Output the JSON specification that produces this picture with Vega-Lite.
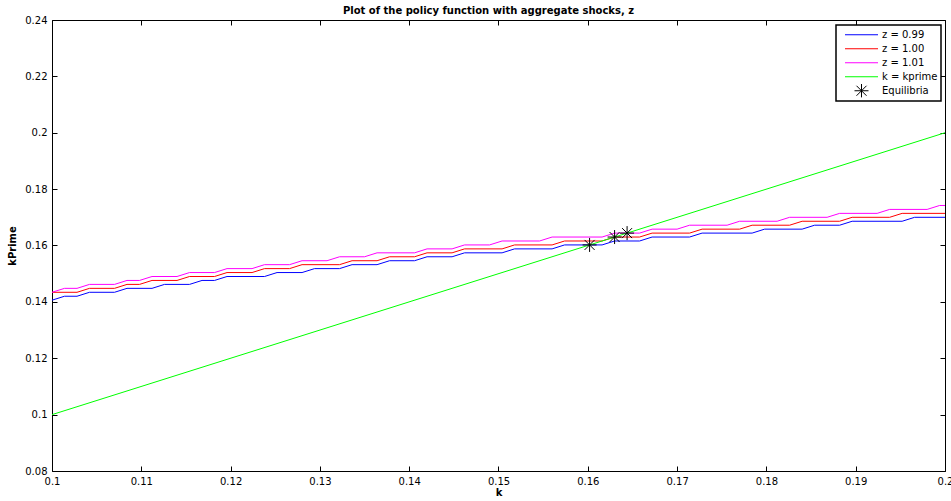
{
  "$schema": "https://vega.github.io/schema/vega-lite/v6.json",
  "width": 893,
  "height": 451,
  "autosize": {"type": "none"},
  "padding": {"left": 52, "top": 20, "right": 6, "bottom": 30},
  "background": "white",
  "title": {
    "text": "Plot of the policy function with aggregate shocks, z",
    "fontSize": 10,
    "fontWeight": "bold",
    "font": "DejaVu Sans",
    "color": "black",
    "offset": -1,
    "dx": -10,
    "anchor": "middle"
  },
  "config": {
    "font": "DejaVu Sans",
    "view": {"stroke": null},
    "axis": {
      "grid": false,
      "domainColor": "black",
      "domainWidth": 1,
      "tickColor": "black",
      "tickWidth": 1,
      "tickSize": -5,
      "labelPadding": 10,
      "labelColor": "black",
      "labelFontSize": 10,
      "labelFont": "DejaVu Sans",
      "titleColor": "black",
      "titleFontSize": 10,
      "titleFontWeight": "bold",
      "titleFont": "DejaVu Sans"
    },
    "legend": {
      "title": null,
      "orient": "none",
      "legendX": 784,
      "legendY": 5,
      "strokeColor": "black",
      "strokeWidth": 1.5,
      "fillColor": "white",
      "padding": 3,
      "labelFontSize": 10,
      "labelColor": "black",
      "labelFont": "DejaVu Sans",
      "labelAlign": "left",
      "symbolSize": 100,
      "symbolStrokeWidth": 1,
      "symbolOffset": 17,
      "labelOffset": 15,
      "clipHeight": 13.5,
      "rowPadding": 0
    }
  },
  "resolve": {
    "axis": {"x": "independent", "y": "independent"},
    "legend": {"color": "independent"}
  },
  "layer": [
    {
      "data": {"values": [
        {"series": "z = 0.99", "k": 0.1, "kp": 0.1406},
        {"series": "z = 0.99", "k": 0.1014, "kp": 0.142},
        {"series": "z = 0.99", "k": 0.1028, "kp": 0.142},
        {"series": "z = 0.99", "k": 0.1042, "kp": 0.1434},
        {"series": "z = 0.99", "k": 0.107, "kp": 0.1434},
        {"series": "z = 0.99", "k": 0.1084, "kp": 0.1448},
        {"series": "z = 0.99", "k": 0.1112, "kp": 0.1448},
        {"series": "z = 0.99", "k": 0.1126, "kp": 0.1462},
        {"series": "z = 0.99", "k": 0.1154, "kp": 0.1462},
        {"series": "z = 0.99", "k": 0.1168, "kp": 0.1476},
        {"series": "z = 0.99", "k": 0.1182, "kp": 0.1476},
        {"series": "z = 0.99", "k": 0.1196, "kp": 0.149},
        {"series": "z = 0.99", "k": 0.1238, "kp": 0.149},
        {"series": "z = 0.99", "k": 0.1252, "kp": 0.1504},
        {"series": "z = 0.99", "k": 0.128, "kp": 0.1504},
        {"series": "z = 0.99", "k": 0.1294, "kp": 0.1518},
        {"series": "z = 0.99", "k": 0.1322, "kp": 0.1518},
        {"series": "z = 0.99", "k": 0.1336, "kp": 0.1532},
        {"series": "z = 0.99", "k": 0.1364, "kp": 0.1532},
        {"series": "z = 0.99", "k": 0.1378, "kp": 0.1546},
        {"series": "z = 0.99", "k": 0.1406, "kp": 0.1546},
        {"series": "z = 0.99", "k": 0.142, "kp": 0.156},
        {"series": "z = 0.99", "k": 0.1448, "kp": 0.156},
        {"series": "z = 0.99", "k": 0.1462, "kp": 0.1574},
        {"series": "z = 0.99", "k": 0.1504, "kp": 0.1574},
        {"series": "z = 0.99", "k": 0.1518, "kp": 0.1588},
        {"series": "z = 0.99", "k": 0.156, "kp": 0.1588},
        {"series": "z = 0.99", "k": 0.1574, "kp": 0.1602},
        {"series": "z = 0.99", "k": 0.1616, "kp": 0.1602},
        {"series": "z = 0.99", "k": 0.163, "kp": 0.1616},
        {"series": "z = 0.99", "k": 0.1658, "kp": 0.1616},
        {"series": "z = 0.99", "k": 0.1672, "kp": 0.163},
        {"series": "z = 0.99", "k": 0.1714, "kp": 0.163},
        {"series": "z = 0.99", "k": 0.1728, "kp": 0.1644},
        {"series": "z = 0.99", "k": 0.1784, "kp": 0.1644},
        {"series": "z = 0.99", "k": 0.1798, "kp": 0.1658},
        {"series": "z = 0.99", "k": 0.184, "kp": 0.1658},
        {"series": "z = 0.99", "k": 0.1854, "kp": 0.1672},
        {"series": "z = 0.99", "k": 0.1882, "kp": 0.1672},
        {"series": "z = 0.99", "k": 0.1896, "kp": 0.1686},
        {"series": "z = 0.99", "k": 0.1952, "kp": 0.1686},
        {"series": "z = 0.99", "k": 0.1966, "kp": 0.17},
        {"series": "z = 0.99", "k": 0.2, "kp": 0.17},

        {"series": "z = 1.00", "k": 0.1, "kp": 0.1434},
        {"series": "z = 1.00", "k": 0.1028, "kp": 0.1434},
        {"series": "z = 1.00", "k": 0.1042, "kp": 0.1448},
        {"series": "z = 1.00", "k": 0.107, "kp": 0.1448},
        {"series": "z = 1.00", "k": 0.1084, "kp": 0.1462},
        {"series": "z = 1.00", "k": 0.1098, "kp": 0.1462},
        {"series": "z = 1.00", "k": 0.1112, "kp": 0.1476},
        {"series": "z = 1.00", "k": 0.114, "kp": 0.1476},
        {"series": "z = 1.00", "k": 0.1154, "kp": 0.149},
        {"series": "z = 1.00", "k": 0.1182, "kp": 0.149},
        {"series": "z = 1.00", "k": 0.1196, "kp": 0.1504},
        {"series": "z = 1.00", "k": 0.1224, "kp": 0.1504},
        {"series": "z = 1.00", "k": 0.1238, "kp": 0.1518},
        {"series": "z = 1.00", "k": 0.1266, "kp": 0.1518},
        {"series": "z = 1.00", "k": 0.128, "kp": 0.1532},
        {"series": "z = 1.00", "k": 0.1322, "kp": 0.1532},
        {"series": "z = 1.00", "k": 0.1336, "kp": 0.1546},
        {"series": "z = 1.00", "k": 0.1364, "kp": 0.1546},
        {"series": "z = 1.00", "k": 0.1378, "kp": 0.156},
        {"series": "z = 1.00", "k": 0.1406, "kp": 0.156},
        {"series": "z = 1.00", "k": 0.142, "kp": 0.1574},
        {"series": "z = 1.00", "k": 0.1448, "kp": 0.1574},
        {"series": "z = 1.00", "k": 0.1462, "kp": 0.1588},
        {"series": "z = 1.00", "k": 0.1504, "kp": 0.1588},
        {"series": "z = 1.00", "k": 0.1518, "kp": 0.1602},
        {"series": "z = 1.00", "k": 0.156, "kp": 0.1602},
        {"series": "z = 1.00", "k": 0.1574, "kp": 0.1616},
        {"series": "z = 1.00", "k": 0.1616, "kp": 0.1616},
        {"series": "z = 1.00", "k": 0.163, "kp": 0.163},
        {"series": "z = 1.00", "k": 0.1658, "kp": 0.163},
        {"series": "z = 1.00", "k": 0.1672, "kp": 0.1644},
        {"series": "z = 1.00", "k": 0.1714, "kp": 0.1644},
        {"series": "z = 1.00", "k": 0.1728, "kp": 0.1658},
        {"series": "z = 1.00", "k": 0.177, "kp": 0.1658},
        {"series": "z = 1.00", "k": 0.1784, "kp": 0.1672},
        {"series": "z = 1.00", "k": 0.1826, "kp": 0.1672},
        {"series": "z = 1.00", "k": 0.184, "kp": 0.1686},
        {"series": "z = 1.00", "k": 0.1882, "kp": 0.1686},
        {"series": "z = 1.00", "k": 0.1896, "kp": 0.17},
        {"series": "z = 1.00", "k": 0.1938, "kp": 0.17},
        {"series": "z = 1.00", "k": 0.1952, "kp": 0.1714},
        {"series": "z = 1.00", "k": 0.2, "kp": 0.1714},

        {"series": "z = 1.01", "k": 0.1, "kp": 0.1434},
        {"series": "z = 1.01", "k": 0.1014, "kp": 0.1448},
        {"series": "z = 1.01", "k": 0.1028, "kp": 0.1448},
        {"series": "z = 1.01", "k": 0.1042, "kp": 0.1462},
        {"series": "z = 1.01", "k": 0.107, "kp": 0.1462},
        {"series": "z = 1.01", "k": 0.1084, "kp": 0.1476},
        {"series": "z = 1.01", "k": 0.1098, "kp": 0.1476},
        {"series": "z = 1.01", "k": 0.1112, "kp": 0.149},
        {"series": "z = 1.01", "k": 0.114, "kp": 0.149},
        {"series": "z = 1.01", "k": 0.1154, "kp": 0.1504},
        {"series": "z = 1.01", "k": 0.1182, "kp": 0.1504},
        {"series": "z = 1.01", "k": 0.1196, "kp": 0.1518},
        {"series": "z = 1.01", "k": 0.1224, "kp": 0.1518},
        {"series": "z = 1.01", "k": 0.1238, "kp": 0.1532},
        {"series": "z = 1.01", "k": 0.1266, "kp": 0.1532},
        {"series": "z = 1.01", "k": 0.128, "kp": 0.1546},
        {"series": "z = 1.01", "k": 0.1308, "kp": 0.1546},
        {"series": "z = 1.01", "k": 0.1322, "kp": 0.156},
        {"series": "z = 1.01", "k": 0.135, "kp": 0.156},
        {"series": "z = 1.01", "k": 0.1364, "kp": 0.1574},
        {"series": "z = 1.01", "k": 0.1406, "kp": 0.1574},
        {"series": "z = 1.01", "k": 0.142, "kp": 0.1588},
        {"series": "z = 1.01", "k": 0.1448, "kp": 0.1588},
        {"series": "z = 1.01", "k": 0.1462, "kp": 0.1602},
        {"series": "z = 1.01", "k": 0.149, "kp": 0.1602},
        {"series": "z = 1.01", "k": 0.1504, "kp": 0.1616},
        {"series": "z = 1.01", "k": 0.1546, "kp": 0.1616},
        {"series": "z = 1.01", "k": 0.156, "kp": 0.163},
        {"series": "z = 1.01", "k": 0.1616, "kp": 0.163},
        {"series": "z = 1.01", "k": 0.163, "kp": 0.1644},
        {"series": "z = 1.01", "k": 0.1658, "kp": 0.1644},
        {"series": "z = 1.01", "k": 0.1672, "kp": 0.1658},
        {"series": "z = 1.01", "k": 0.17, "kp": 0.1658},
        {"series": "z = 1.01", "k": 0.1714, "kp": 0.1672},
        {"series": "z = 1.01", "k": 0.1756, "kp": 0.1672},
        {"series": "z = 1.01", "k": 0.177, "kp": 0.1686},
        {"series": "z = 1.01", "k": 0.1812, "kp": 0.1686},
        {"series": "z = 1.01", "k": 0.1826, "kp": 0.17},
        {"series": "z = 1.01", "k": 0.1868, "kp": 0.17},
        {"series": "z = 1.01", "k": 0.1882, "kp": 0.1714},
        {"series": "z = 1.01", "k": 0.1924, "kp": 0.1714},
        {"series": "z = 1.01", "k": 0.1938, "kp": 0.1728},
        {"series": "z = 1.01", "k": 0.198, "kp": 0.1728},
        {"series": "z = 1.01", "k": 0.1994, "kp": 0.1742},
        {"series": "z = 1.01", "k": 0.2, "kp": 0.1742}
      ]},
      "mark": {"type": "line", "strokeWidth": 1, "clip": true},
      "encoding": {
        "x": {
          "field": "k", "type": "quantitative",
          "scale": {"domain": [0.1, 0.2], "nice": false, "zero": false},
          "axis": {
            "orient": "bottom", "title": "k", "titlePadding": 1,
            "values": [0.1, 0.11, 0.12, 0.13, 0.14, 0.15, 0.16, 0.17, 0.18, 0.19, 0.2],
            "format": ".2~f", "labelFlush": false
          }
        },
        "y": {
          "field": "kp", "type": "quantitative",
          "scale": {"domain": [0.08, 0.24], "nice": false, "zero": false},
          "axis": {
            "orient": "left", "title": "kPrime", "titlePadding": 7,
            "values": [0.08, 0.1, 0.12, 0.14, 0.16, 0.18, 0.2, 0.22, 0.24],
            "format": ".2~f", "labelFlush": false
          }
        },
        "color": {
          "field": "series", "type": "nominal",
          "scale": {
            "domain": ["z = 0.99", "z = 1.00", "z = 1.01", "k = kprime", "Equilibria"],
            "range": ["#0000ff", "#ff0000", "#ff00ff", "#00ff00", "#000000"]
          },
          "legend": {
            "symbolType": "M-3.3,0L3.3,0",
            "encoding": {
              "symbols": {
                "shape": {"value": {"expr": "datum.value === 'Equilibria' ? 'M-1.4,0L1.4,0M0,-1.4L0,1.4M-1,-1L1,1M-1,1L1,-1' : 'M-3.3,0L3.3,0'"}},
                "stroke": {"value": {"expr": "datum.value === 'z = 0.99' ? '#0000ff' : datum.value === 'z = 1.00' ? '#ff0000' : datum.value === 'z = 1.01' ? '#ff00ff' : datum.value === 'k = kprime' ? '#00ff00' : '#000000'"}},
                "fill": {"value": "transparent"},
                "strokeWidth": {"value": 1},
                "opacity": {"value": 1}
              },
              "labels": {
                "align": {"value": "left"}
              }
            }
          }
        }
      }
    },
    {
      "data": {"values": [
        {"series": "k = kprime", "k": 0.1, "kp": 0.1},
        {"series": "k = kprime", "k": 0.2, "kp": 0.2}
      ]},
      "mark": {"type": "line", "strokeWidth": 1, "clip": true},
      "encoding": {
        "x": {
          "field": "k", "type": "quantitative",
          "axis": {
            "orient": "top", "title": null, "labels": false,
            "values": [0.1, 0.11, 0.12, 0.13, 0.14, 0.15, 0.16, 0.17, 0.18, 0.19, 0.2]
          }
        },
        "y": {
          "field": "kp", "type": "quantitative",
          "axis": {
            "orient": "right", "title": null, "labels": false,
            "values": [0.08, 0.1, 0.12, 0.14, 0.16, 0.18, 0.2, 0.22, 0.24]
          }
        },
        "color": {"field": "series", "type": "nominal", "legend": null}
      }
    },
    {
      "data": {"values": [
        {"series": "Equilibria", "k": 0.1602, "kp": 0.1602},
        {"series": "Equilibria", "k": 0.163, "kp": 0.163},
        {"series": "Equilibria", "k": 0.1644, "kp": 0.1644}
      ]},
      "mark": {
        "type": "point", "filled": false, "size": 100, "strokeWidth": 1, "opacity": 1,
        "shape": "M-1.4,0L1.4,0M0,-1.4L0,1.4M-1,-1L1,1M-1,1L1,-1"
      },
      "encoding": {
        "x": {"field": "k", "type": "quantitative", "axis": null},
        "y": {"field": "kp", "type": "quantitative", "axis": null},
        "color": {"field": "series", "type": "nominal", "legend": null}
      }
    }
  ]
}
